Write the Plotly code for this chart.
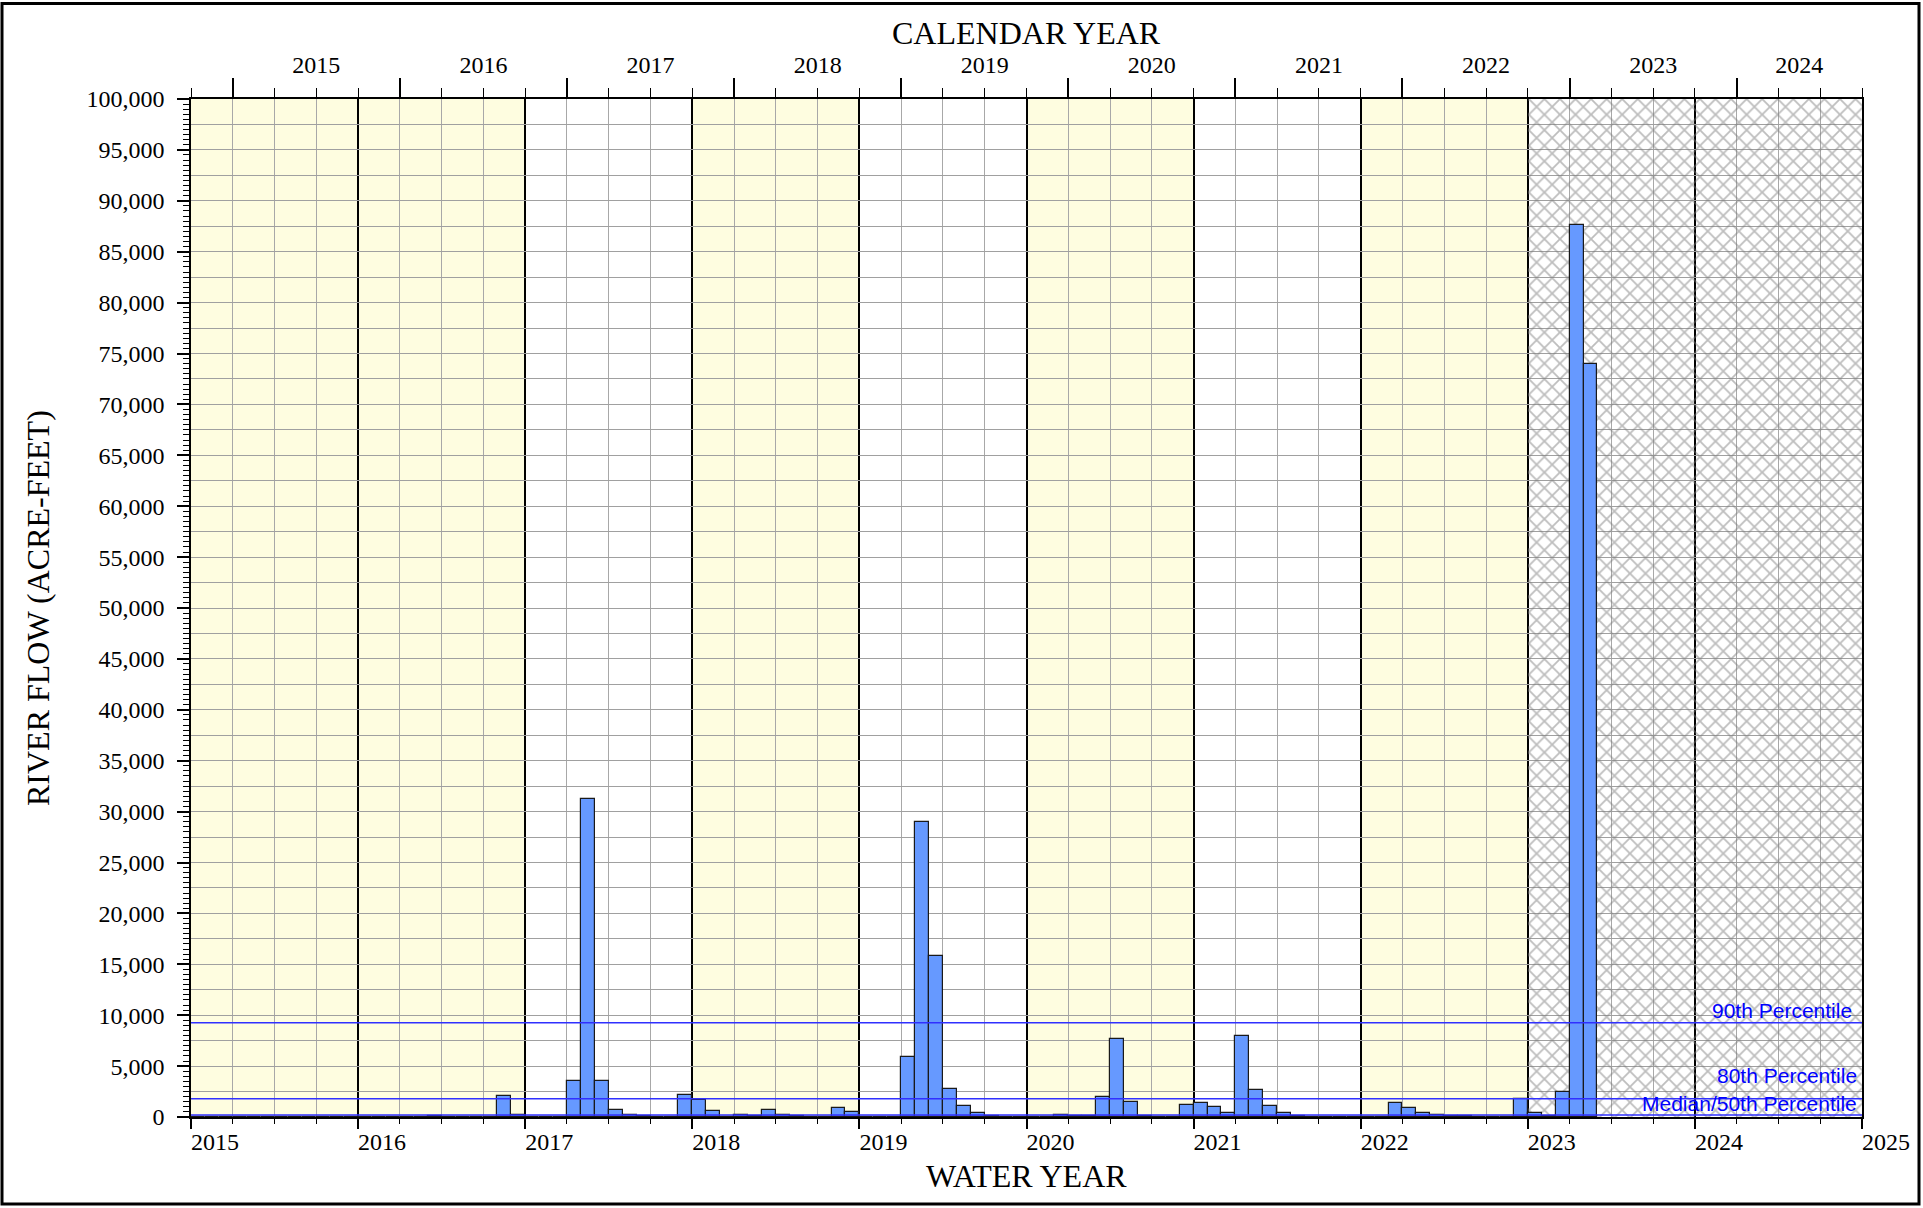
import plotly.graph_objects as go

# Monthly river flow (acre-feet), Oct..Sep of each water year
wy2015 = [30, 30, 30, 30, 30, 30, 30, 30, 30, 30, 30, 30]
wy2016 = [30, 30, 30, 30, 40, 120, 40, 30, 30, 30, 2100, 200]
wy2017 = [30, 30, 30, 3550, 31250, 3500, 650, 150, 50, 30, 30, 2150]
wy2018 = [1700, 550, 30, 150, 50, 700, 200, 50, 40, 30, 850, 500]
wy2019 = [30, 30, 30, 5850, 29000, 15800, 2750, 1100, 420, 130, 30, 30]
wy2020 = [30, 30, 200, 100, 60, 1950, 7650, 1450, 100, 30, 30, 1200]
wy2021 = [1350, 950, 420, 8000, 2620, 1050, 360, 80, 30, 30, 30, 30]
wy2022 = [30, 30, 1380, 920, 400, 230, 130, 50, 40, 30, 30, 1780]
wy2023 = [400, 130, 2430, 87600, 74000]

flow = wy2015 + wy2016 + wy2017 + wy2018 + wy2019 + wy2020 + wy2021 + wy2022 + wy2023
first_wy = 2015

# Water-year shading
yellow_years = [2015, 2016, 2018, 2020, 2022]
hatched_years = [2023, 2024]

# Percentile reference lines
pct_labels = ["90th Percentile", "80th Percentile", "Median/50th Percentile"]
pct_values = [9250, 1800, 200]

cal_years = list(range(2015, 2025))
x_range = [2015, 2025]
y_range = [0, 100000]

# month centres in water-year units
month_x = [first_wy + (i + 0.5) / 12 for i in range(len(flow))]

W, H = 1923, 1208
ml, mr, mt, mb = 191, 61, 99, 91
pw, ph = W - ml - mr, H - mt - mb

serif = "Liberation Serif"
sans = "Liberation Sans"

fig = go.Figure()

# hatched (future) years
fig.add_trace(go.Bar(
    x=[y + 0.5 for y in hatched_years],
    y=[y_range[1]] * len(hatched_years),
    width=1,
    marker=dict(color="rgba(0,0,0,0)", line=dict(width=0),
                pattern=dict(shape="x", fgcolor="#7c7c7c", bgcolor="rgba(0,0,0,0)",
                             size=11, solidity=0.3)),
    hoverinfo="skip", showlegend=False))

# percentile lines
for v in pct_values:
    fig.add_trace(go.Scatter(x=x_range, y=[v, v], mode="lines",
                             line=dict(color="#3030ff", width=1.5),
                             hoverinfo="skip", showlegend=False))

# monthly flow bars
fig.add_trace(go.Bar(
    x=month_x, y=flow, width=1 / 12,
    marker=dict(color="#6699ff", line=dict(color="#1a1a1a", width=1.2)),
    showlegend=False, name="River flow"))

# dummy traces so the overlay axes get drawn
fig.add_trace(go.Scatter(x=[x_range[0]], y=[0], xaxis="x2", mode="markers",
                         marker=dict(opacity=0), hoverinfo="skip", showlegend=False))
fig.add_trace(go.Scatter(x=[x_range[0]], y=[0], xaxis="x3", mode="markers",
                         marker=dict(opacity=0), hoverinfo="skip", showlegend=False))
fig.add_trace(go.Scatter(x=[x_range[0]], y=[0], yaxis="y2", mode="markers",
                         marker=dict(opacity=0), hoverinfo="skip", showlegend=False))

shapes = []
for y in yellow_years:
    shapes.append(dict(type="rect", xref="x", yref="paper", x0=y, x1=y + 1, y0=0, y1=1,
                       fillcolor="#fefde0", line=dict(width=0), layer="below"))
# outer frame
shapes.append(dict(type="rect", xref="paper", yref="paper",
                   x0=(2 - ml) / pw, x1=(W - 4 - ml) / pw,
                   y0=-(mb - 4) / ph, y1=1 + (mt - 3.5) / ph,
                   line=dict(color="black", width=3), fillcolor="rgba(0,0,0,0)"))

# calendar year labels centred on the visible part of each year
cal_centres = [(y + 0.25 + min(y + 1.25, x_range[1])) / 2 for y in cal_years]

annotations = [
    dict(text="CALENDAR YEAR", xref="paper", yref="paper", x=0.5, y=1 + (mt - 33) / ph,
         showarrow=False, font=dict(family=serif, size=32, color="black"), yanchor="middle"),
    dict(text="WATER YEAR", xref="paper", yref="paper", x=0.5, y=-(1176 - (H - mb)) / ph,
         showarrow=False, font=dict(family=serif, size=32, color="black"), yanchor="middle"),
    dict(text="RIVER FLOW (ACRE-FEET)", xref="paper", yref="paper", x=-(ml - 38) / pw, y=0.5,
         textangle=-90, showarrow=False, font=dict(family=serif, size=32, color="black"),
         xanchor="center"),
]
pct_yshift = [-1, 10, -2]
pct_xshift = [-8, -3, -3]
for lab, v, ys, xs in zip(pct_labels, pct_values, pct_yshift, pct_xshift):
    annotations.append(dict(text=lab, xref="paper", yref="y", x=1, y=v,
                            xanchor="right", yanchor="bottom", xshift=xs, yshift=ys,
                            showarrow=False, font=dict(family=sans, size=21, color="#0000ff")))

tickfont = dict(family=serif, size=24, color="black")

fig.update_layout(
    width=W, height=H,
    margin=dict(l=ml, r=mr, t=mt, b=mb),
    paper_bgcolor="white", plot_bgcolor="white",
    barmode="overlay", bargap=0,
    font=dict(family=serif, color="black"),
    shapes=shapes, annotations=annotations,
    xaxis=dict(range=x_range, tickmode="linear", tick0=2015, dtick=1,
               ticks="outside", ticklen=10, tickwidth=1.5, tickcolor="black",
               tickfont=tickfont, ticklabelshift=24, ticklabelstandoff=-8,
               showline=True, linecolor="black", linewidth=1.5,
               showgrid=True, gridcolor="black", gridwidth=1.5, zeroline=False,
               minor=dict(tickmode="linear", tick0=2015, dtick=0.25, ticks="outside",
                          ticklen=5, tickwidth=1.2, tickcolor="black",
                          showgrid=True, gridcolor="#a8a8a8", gridwidth=1),
               automargin=False, layer="below traces"),
    xaxis2=dict(range=x_range, overlaying="x", side="top", anchor="y",
                tickmode="array", tickvals=[y + 0.25 for y in cal_years],
                showticklabels=False, ticks="outside", ticklen=19, tickwidth=1.5,
                tickcolor="black", showline=True, linecolor="black", linewidth=1.5,
                showgrid=False, zeroline=False,
                minor=dict(tickmode="linear", tick0=2015, dtick=0.25, ticks="outside",
                           ticklen=9, tickwidth=1.2, tickcolor="black", showgrid=False),
                automargin=False),
    xaxis3=dict(range=x_range, overlaying="x", side="top", anchor="y",
                tickmode="array", tickvals=cal_centres, ticktext=[str(y) for y in cal_years],
                ticks="", tickfont=tickfont, ticklabelstandoff=20,
                showline=False, showgrid=False, zeroline=False, automargin=False),
    yaxis=dict(range=y_range, tickmode="linear", tick0=0, dtick=5000, tickformat=",d",
               ticks="outside", ticklen=12, tickwidth=1.5, tickcolor="black",
               tickfont=tickfont, ticklabelstandoff=8,
               showline=True, linecolor="black", linewidth=1.5,
               mirror=True, showgrid=True, gridcolor="#8f8f8f", gridwidth=1.3, zeroline=False,
               minor=dict(tickmode="linear", tick0=0, dtick=500, ticks="outside",
                          ticklen=6, tickwidth=1.2, tickcolor="black", showgrid=False),
               automargin=False),
    yaxis2=dict(range=y_range, overlaying="y", side="left", anchor="x",
                tickmode="linear", tick0=0, dtick=2500, showticklabels=False, ticks="",
                showgrid=True, gridcolor="#a0a0a0", gridwidth=1, zeroline=False,
                showline=False, automargin=False),
)

# drop the default page margin so the figure fills the window exactly
fig.write_html("out.html", config={"displayModeBar": False},
               post_script="document.body.style.margin='0';")
